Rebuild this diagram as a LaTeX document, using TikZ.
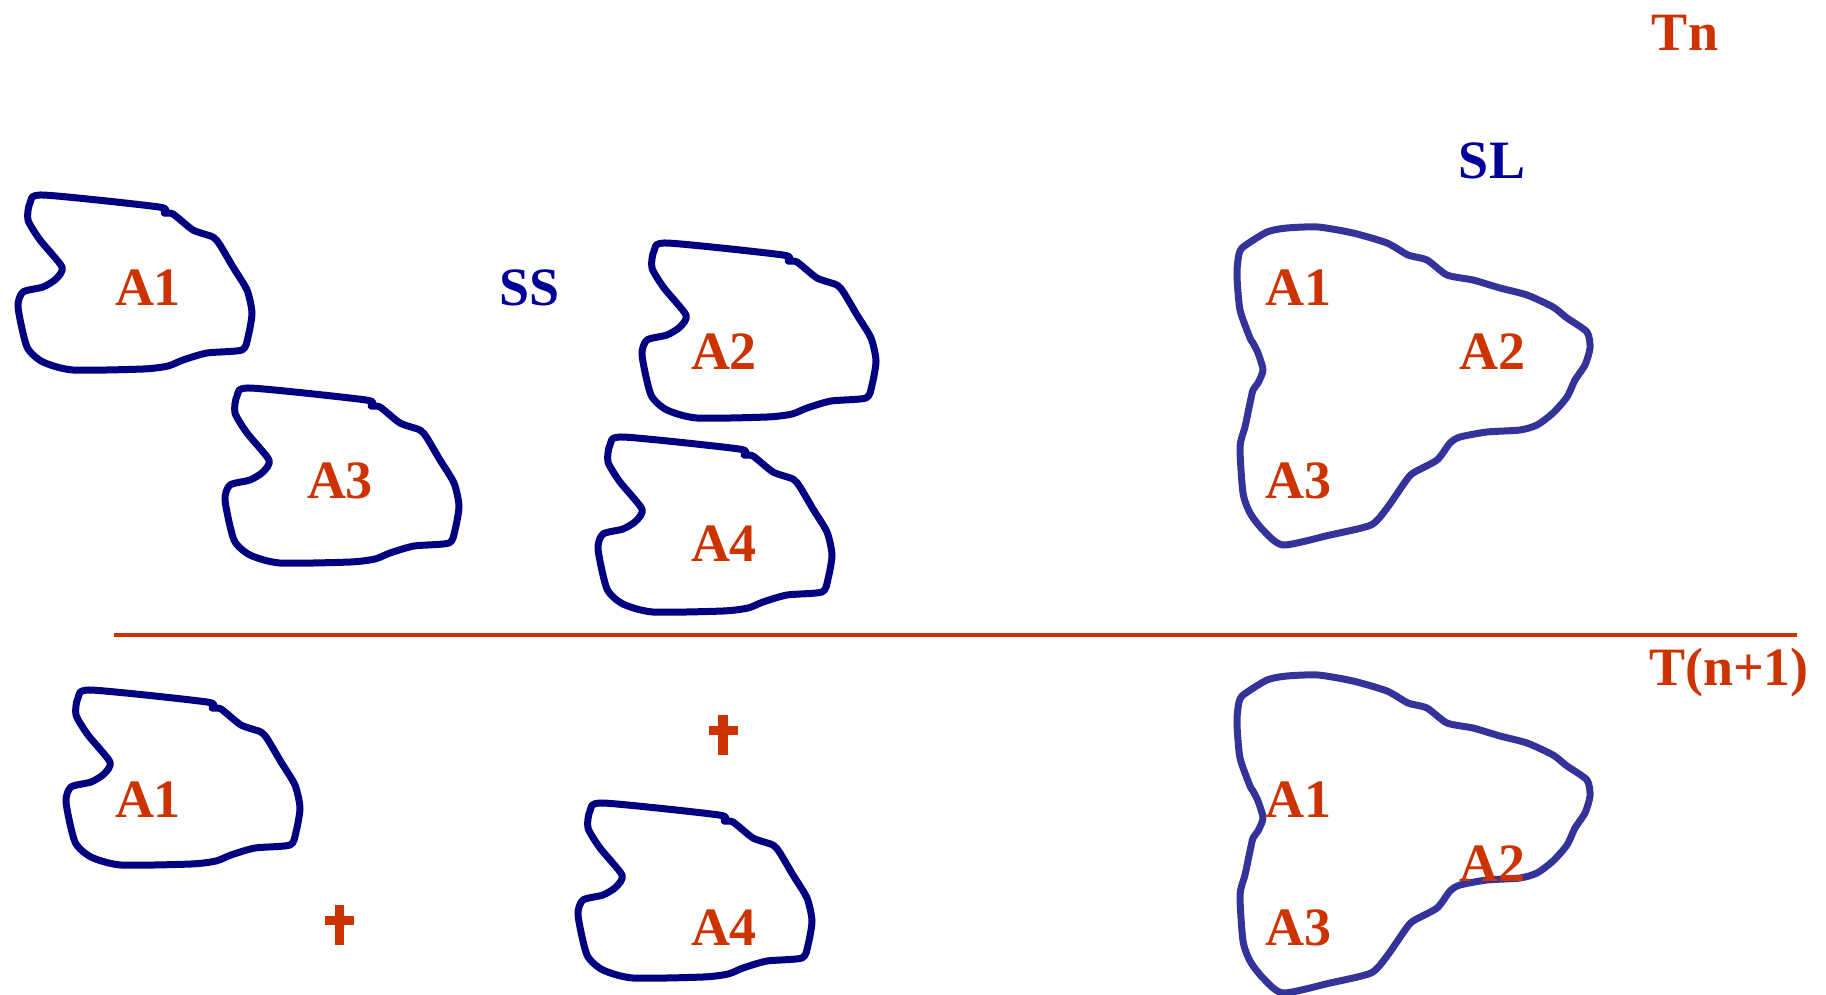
\documentclass[tikz,border=0pt]{standalone}
\usepackage{fontspec}
\setmainfont{Liberation Serif}
\definecolor{labelred}{HTML}{CC3300}
\definecolor{navy}{HTML}{000080}
\definecolor{blobblue}{HTML}{333399}
\definecolor{textblue}{HTML}{000099}
\tikzset{
  smallline/.style={draw=navy, line width=7pt, line join=round},
  bigline/.style={draw=blobblue, line width=7pt, line join=round},
  alabel/.style={text=labelred, font=\bfseries\fontsize{54}{60}\selectfont, inner sep=0pt},
  tlabel/.style={text=labelred, font=\bfseries\fontsize{54}{60}\selectfont, inner sep=0pt},
  blabel/.style={text=textblue, font=\bfseries\fontsize{54}{60}\selectfont, inner sep=0pt},
  smallblob/.pic={
    \draw[smallline] plot[smooth cycle, tension=0.4] coordinates {
      (0,0) (116,12) (121,18) (130,19) (150,35) (170,42) (177,50) (190,72)
      (204,95) (209,118) (205,142) (199,155) (164,158) (140,165) (125,171)
      (100,174) (30,175) (0,167) (-16,152) (-25,112) (-20,97) (0,92) (13,84)
      (19,72) (-3,45) (-15,25) (-13,8)};
  },
  bigblob/.pic={
    \draw[bigline] plot[smooth cycle, tension=0.4] coordinates {
      (1242,248) (1267,232) (1287,228) (1318,227) (1353,233) (1387,243)
      (1408,255) (1427,260) (1447,275) (1473,280) (1500,288) (1527,295)
      (1553,307) (1567,318) (1587,332) (1590,348) (1585,365) (1575,380)
      (1567,397) (1553,413) (1537,425) (1520,430) (1487,432) (1460,437)
      (1450,443) (1437,460) (1413,473) (1405,482) (1387,508) (1371,525)
      (1330,535) (1283,545) (1263,530) (1250,513) (1243,493)
      (1240,447) (1245,427) (1250,403) (1253,390) (1258,383) (1263,370)
      (1258,353) (1253,343) (1250,338) (1240,310) (1237,277) (1238,260)};
  },
  crossmark/.pic={
    \fill[labelred] (-4.7,-20) rectangle (4.7,20);
    \fill[labelred] (-14.5,-9.5) rectangle (14.5,-0.5);
  }
}
\begin{document}
\begin{tikzpicture}[x=1pt, y=-1pt]
\useasboundingbox (0,0) rectangle (1826,994);

% time step labels and phase labels
\node[tlabel] (tn) at (1685,33) {Tn};
\node[tlabel] (tn1) at (1729,673) {T(n+1)};
\node[blabel] (ss) at (530,288) {SS};
\node[blabel] (sl) at (1492,161) {SL};

% separator between the two time steps
\draw[labelred, line width=3.5pt] (114,635) -- (1797,635);

% upper row: separate solid particles
\pic at (43,195) {smallblob};
\pic at (250,388) {smallblob};
\pic at (667,243) {smallblob};
\pic at (623,437) {smallblob};
\node[alabel] (a1) at (148,288) {A1};
\node[alabel] (a3) at (340,481) {A3};
\node[alabel] (a2) at (724,352) {A2};
\node[alabel] (a4) at (724,544) {A4};

% upper row: merged liquid region
\pic at (0,0) {bigblob};
\node[alabel] (la1) at (1298,288) {A1};
\node[alabel] (la2) at (1492,352) {A2};
\node[alabel] (la3) at (1298,481) {A3};

% lower row: remaining solid particles
\pic at (91,690) {smallblob};
\pic at (603,803) {smallblob};
\node[alabel] (b1) at (148,800) {A1};
\node[alabel] (b4) at (724,928) {A4};
\pic at (723,735) {crossmark};
\pic at (339.5,925) {crossmark};

% lower row: liquid region
\pic at (0,448) {bigblob};
\node[alabel] (lb1) at (1298,800) {A1};
\node[alabel] (lb2) at (1492,864) {A2};
\node[alabel] (lb3) at (1298,928) {A3};
\end{tikzpicture}
\end{document}
